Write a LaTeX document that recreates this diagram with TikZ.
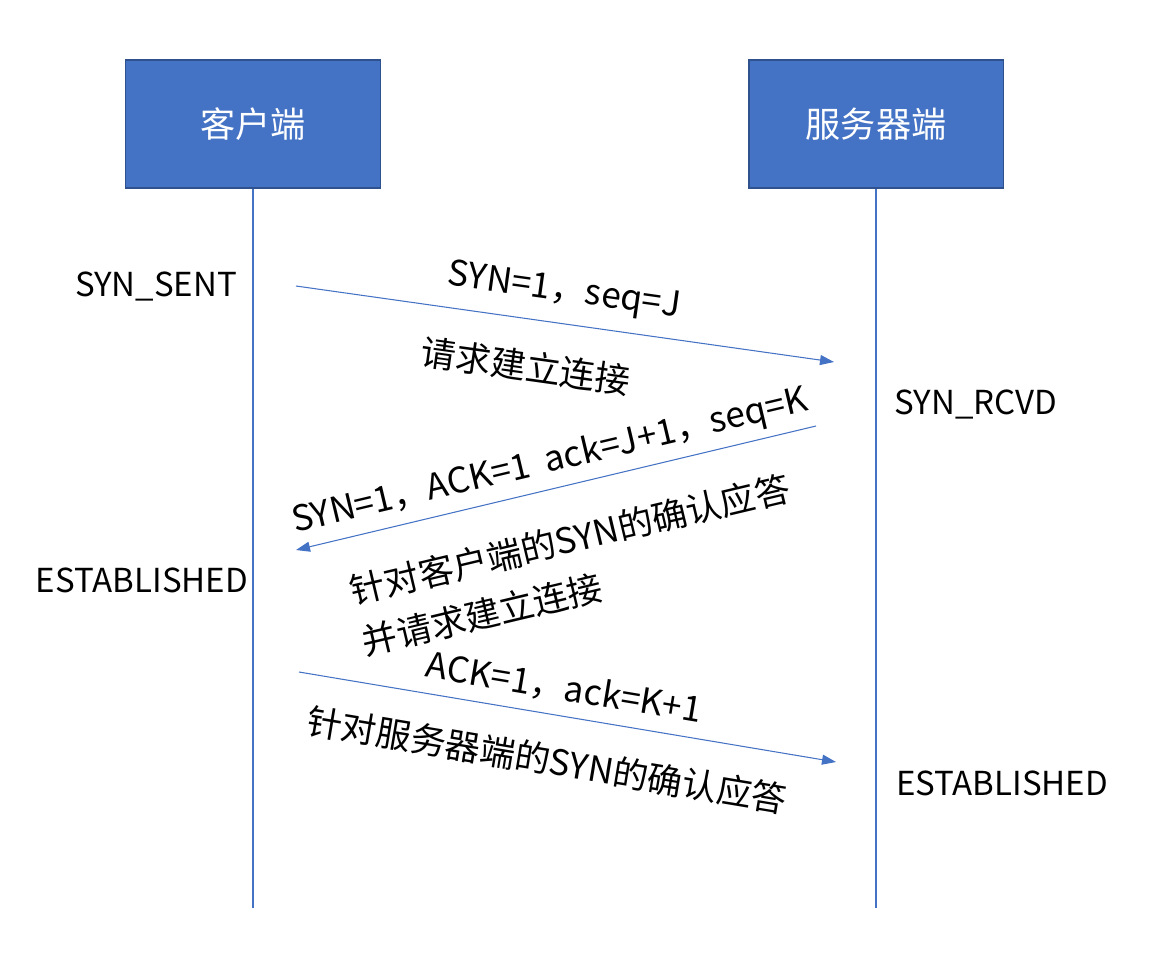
\documentclass[tikz,border=0pt]{standalone}
\usepackage{fontspec}
\setmainfont{Noto Sans CJK SC}
\usetikzlibrary{arrows.meta}
\definecolor{boxblue}{HTML}{4472C4}
\definecolor{boxedge}{HTML}{2F528F}
\tikzset{
  party/.style={draw=boxedge,line width=1.1pt,fill=boxblue,text=white,
    minimum width=5.1cm,minimum height=2.56cm,font=\fontsize{20}{24}\selectfont},
  life/.style={draw=boxblue,line width=0.6pt},
  msg/.style={draw=boxblue,line width=0.6pt,-{Triangle[length=0.28cm,width=0.2cm]}},
  state/.style={font=\fontsize{18.8}{24}\selectfont},
  note/.style={font=\fontsize{20}{30}\selectfont,align=left,inner sep=0pt}
}
\begin{document}
\begin{tikzpicture}[x=0.02cm,y=0.02cm]
    \useasboundingbox (0,0) rectangle (1158,-957);
    % the two parties and their lifelines
    \node[party] (client) at (253,-124) {客户端};
    \node[party] (server) at (876,-124) {服务器端};
    \coordinate (clientend) at (253,-908);
    \coordinate (serverend) at (876,-908);
    \draw[life] (client.south) -- (clientend);
    \draw[life] (server.south) -- (serverend);
    % states
    \node[state] (synsent) at (156,-286) {SYN\_SENT};
    \node[state] (synrcvd) at (976,-404) {SYN\_RCVD};
    \node[state] (clientest) at (142,-580) {ESTABLISHED};
    \node[state] (serverest) at (1002,-783) {ESTABLISHED};
    % first handshake
    \coordinate (synfrom) at (296,-286);
    \coordinate (synto) at (834,-362);
    \draw[msg] (synfrom) -- (synto);
    \node[note,rotate=-8] (synlabel) at (564,-292) {SYN=1，seq=J};
    \node[note,rotate=-8] (synnote) at (526,-366) {请求建立连接};
    % second handshake
    \coordinate (synackfrom) at (816,-426);
    \coordinate (synackto) at (296,-550);
    \draw[msg] (synackfrom) -- (synackto);
    \node[note,rotate=13.4] (synacklabel) at (550,-462) {SYN=1，ACK=1\ \ ack=J+1，seq=K};
    \node[note,rotate=13.4] (synacknote) at (576,-565) {针对客户端的SYN的确认应答\\并请求建立连接};
    % third handshake
    \coordinate (ackfrom) at (299,-672);
    \coordinate (ackto) at (836,-762);
    \draw[msg] (ackfrom) -- (ackto);
    \node[note,rotate=-9.5] (acklabel) at (564,-688) {ACK=1，ack=K+1};
    \node[note,rotate=-9.5] (acknote) at (547,-760) {针对服务器端的SYN的确认应答};
\end{tikzpicture}
\end{document}
